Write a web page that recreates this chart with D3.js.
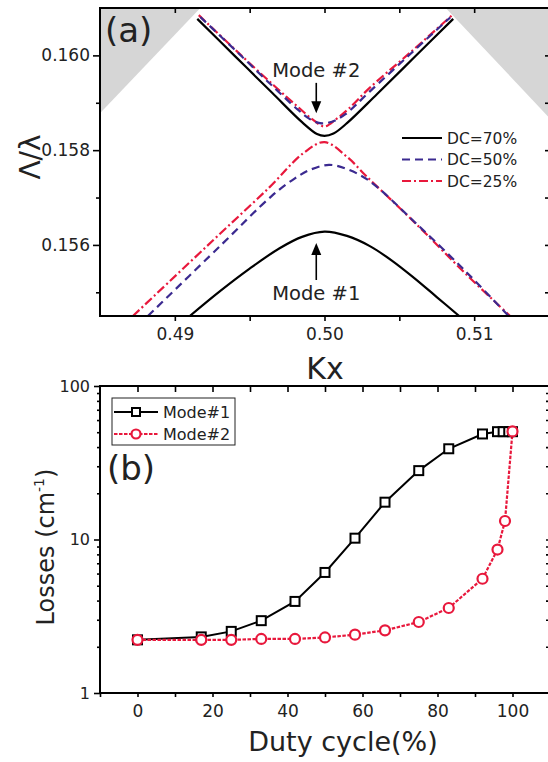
<!DOCTYPE html>
<html>
<head>
<meta charset="utf-8">
<script src="https://cdn.jsdelivr.net/npm/d3@7"></script>
<style>
  body { margin: 0; background: #fff; }
  svg { display: block; font-family: "DejaVu Sans", sans-serif; }
  .tick text { fill: #222; }
</style>
</head>
<body>
<svg id="fig" width="548" height="762"></svg>
<script>
// ---- panel (a): band diagram, [Kx, Λ/λ] pairs ----
const dc70Upper = [[0.4915,0.16077],[0.4940,0.15999],[0.4965,0.15921],[0.4985,0.15859],[0.4995,0.15834],[0.5000,0.15830],[0.5006,0.15835],[0.5015,0.15857],[0.5035,0.15918],[0.5060,0.15996],[0.5086,0.16077]];
const dc50Upper = [[0.4917,0.16081],[0.4942,0.16006],[0.4966,0.15933],[0.4982,0.15886],[0.4990,0.15866],[0.4997,0.15857],[0.5005,0.15860],[0.5014,0.15876],[0.5030,0.15923],[0.5057,0.16002],[0.5084,0.16080]];
const dc25Upper = [[0.4916,0.16085],[0.4941,0.16010],[0.4966,0.15937],[0.4982,0.15892],[0.4992,0.15865],[0.5000,0.15850],[0.5008,0.15866],[0.5016,0.15887],[0.5030,0.15931],[0.5058,0.16008],[0.5085,0.16084]];
const dc70Lower = [[0.4910,0.15450],[0.4930,0.15502],[0.4950,0.15550],[0.4970,0.15593],[0.4985,0.15617],[0.5000,0.15628],[0.5015,0.15619],[0.5030,0.15598],[0.5045,0.15567],[0.5060,0.15530],[0.5075,0.15490],[0.5090,0.15450]];
const dc50Lower = [[0.4882,0.15450],[0.4930,0.15597],[0.4965,0.15704],[0.4980,0.15740],[0.4990,0.15758],[0.5003,0.15769],[0.5015,0.15760],[0.5030,0.15735],[0.5060,0.15649],[0.5095,0.15542],[0.5123,0.15450]];
const dc25Lower = [[0.4872,0.15450],[0.4930,0.15623],[0.4963,0.15721],[0.4986,0.15794],[0.5000,0.15817],[0.5015,0.15786],[0.5028,0.15745],[0.5060,0.15648],[0.5095,0.15537],[0.5124,0.15450]];
const lightLeft = [[0.4850,0.15878],[0.4917,0.16100],[0.4850,0.16100]];
const lightRight = [[0.5081,0.16100],[0.5150,0.15869],[0.5150,0.16100]];
const legendA = ["DC=70%", "DC=50%", "DC=25%"];

// ---- panel (b): losses vs duty cycle ----
const dutyM1 = [0, 17, 25, 33, 42, 50, 58, 66, 75, 83, 92, 96, 97.5, 99, 100];
const lossM1 = [2.22, 2.32, 2.52, 2.96, 3.95, 6.1, 10.2, 17.5, 28.1, 39.0, 48.7, 50.4, 50.4, 50.4, 50.4];
const dutyM2 = [0, 17, 25, 33, 42, 50, 58, 66, 75, 83, 92, 96, 98, 100];
const lossM2 = [2.22, 2.22, 2.22, 2.25, 2.25, 2.3, 2.4, 2.56, 2.9, 3.58, 5.55, 8.6, 13.2, 50.6];
const legendB = ["Mode#1", "Mode#2"];

const svg = d3.select("#fig");
const blue = "#3b2a90", red = "#e8183c";

// ================= panel (a) =================
const kx = d3.scaleLinear().domain([0.485, 0.515]).range([100, 549]);
const ratio = d3.scaleLinear().domain([0.1545, 0.161]).range([316, 8]);

svg.append("clipPath").attr("id", "clipA")
  .append("rect").attr("x", 100).attr("y", 8).attr("width", 449).attr("height", 308);

const gA = svg.append("g").attr("clip-path", "url(#clipA)");
const poly = d3.line().x(d => kx(d[0])).y(d => ratio(d[1]));
[lightLeft, lightRight].forEach(p => {
  gA.append("path").attr("d", poly(p) + "Z").attr("fill", "#d6d6d6");
});

const bandLine = d3.line().x(d => kx(d[0])).y(d => ratio(d[1])).curve(d3.curveCatmullRom.alpha(0.5));
const bands = [
  {d: dc25Lower, c: red, dash: "9,3,2,3"},
  {d: dc50Lower, c: blue, dash: "8,5"},
  {d: dc70Lower, c: "#000", dash: null},
  {d: dc25Upper, c: red, dash: "9,3,2,3"},
  {d: dc50Upper, c: blue, dash: "8,5"},
  {d: dc70Upper, c: "#000", dash: null}
];
bands.forEach(b => {
  gA.append("path").attr("d", bandLine(b.d))
    .attr("fill", "none").attr("stroke", b.c)
    .attr("stroke-width", 2.2)
    .attr("stroke-dasharray", b.dash);
});

// axes (a)
function styleAxis(g) {
  g.select(".domain").remove();
  g.selectAll(".tick line").attr("stroke", "#000").attr("stroke-width", 1.6);
}
svg.append("g").attr("transform", "translate(100,0)")
  .call(d3.axisLeft(ratio).tickValues([0.156, 0.158, 0.160]).tickFormat(d3.format(".3f")).tickSize(7).tickPadding(3))
  .call(styleAxis).selectAll("text").attr("font-size", 17).attr("font-family", "DejaVu Sans");
svg.append("g").attr("transform", "translate(100,0)")
  .call(d3.axisLeft(ratio).tickValues([0.155, 0.157, 0.159]).tickFormat("").tickSize(4))
  .call(styleAxis);
svg.append("g").attr("transform", "translate(549,0)")
  .call(d3.axisRight(ratio).tickValues([0.155, 0.156, 0.157, 0.158, 0.159, 0.160]).tickFormat("").tickSize(-4))
  .call(styleAxis);
svg.append("g").attr("transform", "translate(0,316)")
  .call(d3.axisBottom(kx).tickValues([0.49, 0.50, 0.51]).tickFormat(d => d.toFixed(2)).tickSize(5).tickPadding(7))
  .call(styleAxis).selectAll("text").attr("font-size", 17).attr("font-family", "DejaVu Sans");
svg.append("g").attr("transform", "translate(0,316)")
  .call(d3.axisBottom(kx).tickValues([0.495, 0.505]).tickFormat("").tickSize(5))
  .call(styleAxis);
svg.append("g").attr("transform", "translate(0,8)")
  .call(d3.axisTop(kx).tickValues([0.49, 0.495, 0.50, 0.505, 0.51]).tickFormat("").tickSize(-5))
  .call(styleAxis);
svg.append("rect").attr("x", 100).attr("y", 8).attr("width", 449).attr("height", 308)
  .attr("fill", "none").attr("stroke", "#000").attr("stroke-width", 2);

// labels (a)
svg.append("text").attr("x", 105).attr("y", 42).attr("font-size", 34).attr("fill", "#222").text("(a)");
svg.append("text").attr("transform", "translate(40,157) rotate(-90)")
  .attr("text-anchor", "middle").attr("font-size", 28).attr("fill", "#222").text("Λ/λ");
svg.append("text").attr("x", 325).attr("y", 379).attr("text-anchor", "middle")
  .attr("font-size", 30).attr("fill", "#222").text("Kx");

// mode annotations
function arrow(x, y0, y1) {
  const xs = kx(x), a = ratio(y0), b = ratio(y1);
  const dir = b > a ? 1 : -1;
  svg.append("line").attr("x1", xs).attr("x2", xs).attr("y1", a).attr("y2", b - dir * 8)
    .attr("stroke", "#000").attr("stroke-width", 1.6);
  svg.append("path")
    .attr("d", `M${xs},${b}L${xs - 5},${b - dir * 12}L${xs + 5},${b - dir * 12}Z`)
    .attr("fill", "#000");
}
svg.append("text").attr("x", kx(0.49945)).attr("y", ratio(0.15955)).attr("text-anchor", "middle")
  .attr("font-size", 19.5).attr("fill", "#222").text("Mode #2");
arrow(0.49945, 0.15942, 0.15878);
svg.append("text").attr("x", kx(0.49945)).attr("y", ratio(0.15484)).attr("text-anchor", "middle")
  .attr("font-size", 19.5).attr("fill", "#222").text("Mode #1");
arrow(0.49945, 0.15526, 0.15604);

// legend (a)
const legA = svg.append("g");
legendA.forEach((t, i) => {
  const y = 138 + i * 21.5;
  legA.append("line").attr("x1", 402).attr("x2", 442).attr("y1", y).attr("y2", y)
    .attr("stroke", bands[5 - i].c).attr("stroke-width", 2.2)
    .attr("stroke-dasharray", bands[5 - i].dash);
  legA.append("text").attr("x", 447).attr("y", y).attr("dy", "0.36em")
    .attr("font-size", 15.5).attr("fill", "#222").text(t);
});

// ================= panel (b) =================
const duty = d3.scaleLinear().domain([-10, 110]).range([100, 550]);
const loss = d3.scaleLog().domain([1, 100]).range([693, 386]);

const m1 = dutyM1.map((d, i) => [d, lossM1[i]]);
const m2 = dutyM2.map((d, i) => [d, lossM2[i]]);
const ln = d3.line().x(d => duty(d[0])).y(d => loss(d[1]));

svg.append("path").attr("d", ln(m1)).attr("fill", "none").attr("stroke", "#000").attr("stroke-width", 2);
svg.append("path").attr("d", ln(m2)).attr("fill", "none").attr("stroke", red)
  .attr("stroke-width", 2.2).attr("stroke-dasharray", "3.5,1.5");

svg.append("g").selectAll("rect").data(m1).join("rect")
  .attr("x", d => duty(d[0]) - 4.5).attr("y", d => loss(d[1]) - 4.5)
  .attr("width", 9).attr("height", 9)
  .attr("fill", "#fff").attr("stroke", "#000").attr("stroke-width", 2);
svg.append("g").selectAll("circle").data(m2).join("circle")
  .attr("cx", d => duty(d[0])).attr("cy", d => loss(d[1])).attr("r", 5)
  .attr("fill", "#fff").attr("stroke", red).attr("stroke-width", 2.2);

// axes (b)
const decadeMinor = [2,3,4,5,6,7,8,9,20,30,40,50,60,70,80,90];
svg.append("g").attr("transform", "translate(100,0)")
  .call(d3.axisLeft(loss).tickValues([1, 10, 100]).tickFormat(d3.format("d")).tickSize(6).tickPadding(4))
  .call(styleAxis).selectAll("text").attr("font-size", 16).attr("font-family", "DejaVu Sans");
svg.append("g").attr("transform", "translate(100,0)")
  .call(d3.axisLeft(loss).tickValues(decadeMinor).tickFormat("").tickSize(3))
  .call(styleAxis);
svg.append("g").attr("transform", "translate(550,0)")
  .call(d3.axisRight(loss).tickValues(decadeMinor.concat([10])).tickFormat("").tickSize(-4))
  .call(styleAxis);
svg.append("g").attr("transform", "translate(0,693)")
  .call(d3.axisBottom(duty).tickValues([0, 20, 40, 60, 80, 100]).tickFormat(d3.format("d")).tickSize(4).tickPadding(8))
  .call(styleAxis).selectAll("text").attr("font-size", 17).attr("font-family", "DejaVu Sans");
svg.append("g").attr("transform", "translate(0,693)")
  .call(d3.axisBottom(duty).tickValues([-10, 10, 30, 50, 70, 90]).tickFormat("").tickSize(4))
  .call(styleAxis);
svg.append("g").attr("transform", "translate(0,386)")
  .call(d3.axisTop(duty).tickValues(d3.range(0, 101, 10)).tickFormat("").tickSize(-6))
  .call(styleAxis);
svg.append("rect").attr("x", 100).attr("y", 386).attr("width", 450).attr("height", 307)
  .attr("fill", "none").attr("stroke", "#000").attr("stroke-width", 2);

// labels (b)
svg.append("text").attr("x", 107).attr("y", 480).attr("font-size", 34).attr("fill", "#222").text("(b)");
svg.append("text").attr("x", 343).attr("y", 751).attr("text-anchor", "middle")
  .attr("font-size", 27).attr("fill", "#222").text("Duty cycle(%)");
const yl = svg.append("text").attr("transform", "translate(54,547) rotate(-90)")
  .attr("text-anchor", "middle").attr("font-size", 24).attr("fill", "#222");
yl.append("tspan").text("Losses (cm");
yl.append("tspan").attr("font-size", 14).attr("dy", -10).text("-1");
yl.append("tspan").attr("dy", 10).text(")");

// legend (b)
const legB = svg.append("g");
legB.append("rect").attr("x", 112).attr("y", 398).attr("width", 123).attr("height", 47)
  .attr("fill", "#fff").attr("stroke", "#222").attr("stroke-width", 1);
legendB.forEach((t, i) => {
  const y = 412 + i * 22;
  legB.append("line").attr("x1", 114).attr("x2", 158).attr("y1", y).attr("y2", y)
    .attr("stroke", i ? red : "#000").attr("stroke-width", 2)
    .attr("stroke-dasharray", i ? "3.5,1.5" : null);
  if (i) {
    legB.append("circle").attr("cx", 136).attr("cy", y).attr("r", 4.5)
      .attr("fill", "#fff").attr("stroke", red).attr("stroke-width", 2.2);
  } else {
    legB.append("rect").attr("x", 132).attr("y", y - 4).attr("width", 8).attr("height", 8)
      .attr("fill", "#fff").attr("stroke", "#000").attr("stroke-width", 2);
  }
  legB.append("text").attr("x", 163).attr("y", y).attr("dy", "0.36em")
    .attr("font-size", 16).attr("fill", "#222").text(t);
});
</script>
</body>
</html>
